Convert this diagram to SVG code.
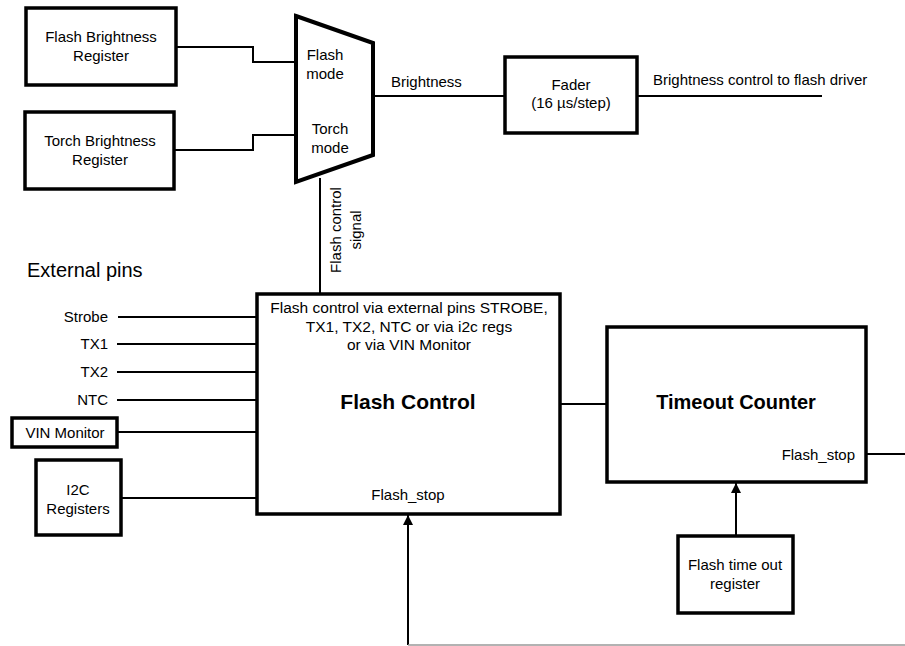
<svg xmlns="http://www.w3.org/2000/svg" width="905" height="646" viewBox="0 0 905 646">
<defs>
<style>
text{font-family:"Liberation Sans",Arial,sans-serif;fill:#000}
.box{fill:#fff;stroke:#000;stroke-width:3.5}
.w{fill:none;stroke:#000;stroke-width:2}
.t{font-size:15px}
.m{text-anchor:middle}
.e{text-anchor:end}
.b{font-weight:bold}
</style>
<marker id="arr" viewBox="0 0 10 10" refX="10" refY="5" markerWidth="10" markerHeight="10" markerUnits="userSpaceOnUse" orient="auto">
<path d="M0,0 L10,5 L0,10 Z" fill="#000"/>
</marker>
</defs>
<rect width="905" height="646" fill="#fff"/>
<g id="connectors">
<polyline class="w" points="176,47 253,47 253,62 296,62"/>
<polyline class="w" points="174,150 253,150 253,135 296,135"/>
<line class="w" x1="373" y1="96" x2="505" y2="96"/>
<line class="w" x1="637" y1="96" x2="822" y2="96"/>
<line class="w" x1="320" y1="178" x2="320" y2="294"/>
<line class="w" x1="118" y1="317" x2="257" y2="317"/>
<line class="w" x1="117" y1="344" x2="257" y2="344"/>
<line class="w" x1="117" y1="372" x2="257" y2="372"/>
<line class="w" x1="117" y1="400" x2="257" y2="400"/>
<line class="w" x1="117" y1="432" x2="257" y2="432"/>
<line class="w" x1="121" y1="498" x2="257" y2="498"/>
<line class="w" x1="560" y1="404" x2="607" y2="404"/>
<line class="w" x1="866" y1="454" x2="905" y2="454"/>
<line class="w" x1="736" y1="536" x2="736" y2="483" marker-end="url(#arr)"/>
<line class="w" x1="408" y1="645" x2="408" y2="515" marker-end="url(#arr)"/>
<line x1="408" y1="645" x2="905" y2="645" stroke="#999" stroke-width="1.5"/>
<text class="t" x="391" y="87">Brightness</text>
<text class="t" x="653" y="85">Brightness control to flash driver</text>
<text class="t m" transform="translate(341,230) rotate(-90)">Flash control</text>
<text class="t m" transform="translate(361,230) rotate(-90)">signal</text>
<text x="27" y="277" font-size="20">External pins</text>
<text class="t e" x="108" y="322">Strobe</text>
<text class="t e" x="108" y="349">TX1</text>
<text class="t e" x="108" y="377">TX2</text>
<text class="t e" x="108" y="405">NTC</text>
</g>
<g id="flash-brightness-register">
<rect class="box" x="26" y="8" width="150" height="77"/>
<text class="t m" x="101" y="42">Flash Brightness</text>
<text class="t m" x="101" y="61">Register</text>
</g>
<g id="torch-brightness-register">
<rect class="box" x="25" y="112" width="149" height="77"/>
<text class="t m" x="100" y="146">Torch Brightness</text>
<text class="t m" x="100" y="165">Register</text>
</g>
<g id="mux">
<polygon points="296,16 373,43 373,155 296,182" fill="#fff" stroke="#000" stroke-width="4" stroke-linejoin="miter"/>
<text class="t m" x="325" y="60">Flash</text>
<text class="t m" x="325" y="79">mode</text>
<text class="t m" x="330" y="134">Torch</text>
<text class="t m" x="330" y="153">mode</text>
</g>
<g id="fader">
<rect class="box" x="505" y="57" width="132" height="76"/>
<text class="t m" x="571" y="90">Fader</text>
<text class="t m" x="571" y="108">(16 µs/step)</text>
</g>
<g id="flash-control">
<rect class="box" x="257" y="294" width="303" height="220"/>
<text class="m" font-size="15.5" x="409" y="313">Flash control via external pins STROBE,</text>
<text class="m" font-size="15.5" x="409" y="332">TX1, TX2, NTC or via i2c regs</text>
<text class="m" font-size="15.5" x="409" y="350">or via VIN Monitor</text>
<text class="m b" font-size="21" x="408" y="409">Flash Control</text>
<text class="t m" x="408" y="500">Flash_stop</text>
</g>
<g id="vin-monitor">
<rect class="box" x="12" y="418" width="105" height="29"/>
<text class="t m" x="65" y="438">VIN Monitor</text>
</g>
<g id="i2c-registers">
<rect class="box" x="36" y="460" width="85" height="75"/>
<text class="t m" x="78" y="495">I2C</text>
<text class="t m" x="78" y="514">Registers</text>
</g>
<g id="timeout-counter">
<rect class="box" x="607" y="327" width="259" height="155"/>
<text class="m b" font-size="20" x="736" y="409">Timeout Counter</text>
<text class="t e" x="855" y="460">Flash_stop</text>
</g>
<g id="flash-timeout-register">
<rect class="box" x="678" y="536" width="115" height="77"/>
<text class="t m" x="735" y="570">Flash time out</text>
<text class="t m" x="735" y="589">register</text>
</g>
</svg>
